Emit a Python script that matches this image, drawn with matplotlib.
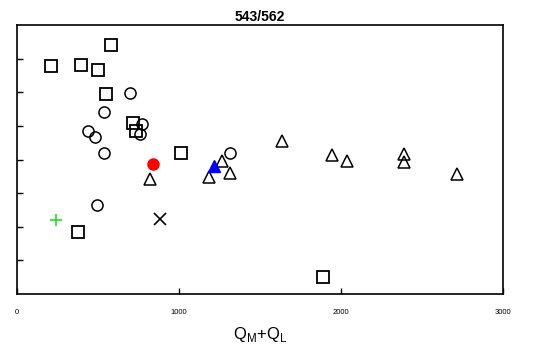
import numpy as np
import matplotlib.pyplot as plt

plt.rcParams['font.family'] = ['Liberation Sans', 'DejaVu Sans']
plt.rcParams['mathtext.fontset'] = 'custom'
plt.rcParams['mathtext.rm'] = 'Liberation Sans'

# values (y axis has no labels, ticks at 1..7)
sq_x = [208, 395, 498, 582, 549, 714, 735, 1014, 375, 1891]
sq_y = [6.79, 6.82, 6.67, 7.40, 5.96, 5.08, 4.85, 4.20, 1.83, 0.52]

ci_x = [698, 539, 440, 481, 539, 770, 759, 1315, 492]
ci_y = [5.98, 5.41, 4.86, 4.68, 4.18, 5.06, 4.76, 4.18, 2.64]

tr_x = [819, 1185, 1267, 1313, 1636, 1946, 2037, 2391, 2387, 2716]
tr_y = [3.41, 3.49, 3.95, 3.60, 4.56, 4.14, 3.96, 4.17, 3.92, 3.57]

red_x, red_y = [837], [3.88]
blue_x, blue_y = [1214], [3.82]
plus_x, plus_y = [241], [2.19]
cross_x, cross_y = [883], [2.23]

fig = plt.figure(figsize=(5.53, 3.45), dpi=100)
ax = fig.add_axes([17 / 553, 1 - 294 / 345, 486 / 553, 269 / 345])

ax.plot(sq_x, sq_y, 's', ms=8, mfc='none', mec='black', mew=1.3)
ax.plot(ci_x, ci_y, 'o', ms=8, mfc='none', mec='black', mew=1.1)
ax.plot(tr_x, tr_y, '^', ms=8, mfc='none', mec='black', mew=1.1)
ax.plot(red_x, red_y, 'o', ms=8, color='red')
ax.plot(blue_x, blue_y, '^', ms=9, color='blue')
ax.plot(plus_x, plus_y, '+', ms=9, color='#22dd22', mew=1.2)
ax.plot(cross_x, cross_y, 'x', ms=8, color='black', mew=1.2)

ax.set_xlim(0, 3000)
ax.set_ylim(0, 8)
ax.set_xticks([0, 1000, 2000, 3000])
ax.set_yticks(np.arange(1, 8))
ax.set_yticklabels([])
ax.tick_params(direction='in', length=4, width=1, labelsize=5.5, pad=11)
for s in ax.spines.values():
    s.set_linewidth(1.2)

ax.set_title('543/562', fontsize=10, fontweight='bold', pad=3)
ax.set_xlabel(r'Q$_\mathrm{M}$+Q$_\mathrm{L}$', fontsize=12, labelpad=6)

fig.savefig('out.png', dpi=100)
